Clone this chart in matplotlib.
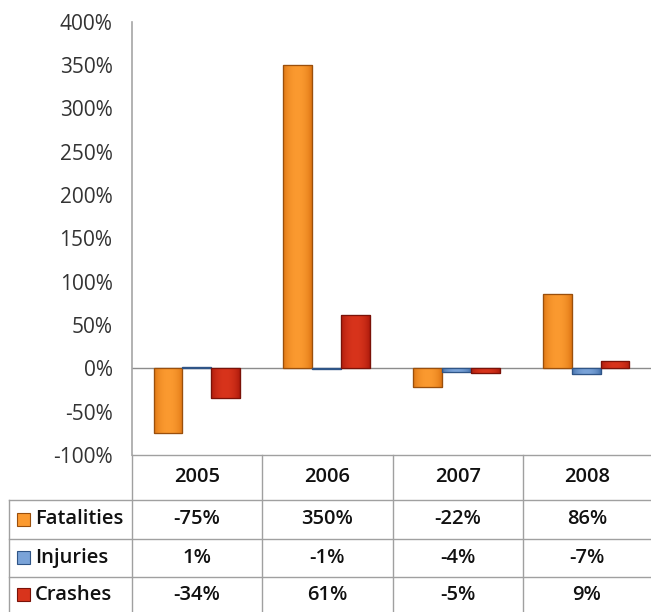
import numpy as np
import matplotlib
matplotlib.use('Agg')
from matplotlib import pyplot as plt
from matplotlib.lines import Line2D
from matplotlib.patches import Rectangle
from matplotlib.colors import LinearSegmentedColormap
from matplotlib.ticker import FuncFormatter

plt.rcParams['font.family'] = ['Open Sans', 'DejaVu Sans']

years = ['2005', '2006', '2007', '2008']
series = ['Fatalities', 'Injuries', 'Crashes']
fatalities = [-75, 350, -22, 86]
injuries = [1, -1, -4, -7]
crashes = [-34, 61, -5, 9]
values = [fatalities, injuries, crashes]

# (dark edge, light centre) per series
shades = {
    'Fatalities': ('#d9700f', '#fb9a30'),
    'Injuries': ('#3d6aa5', '#7aa3d8'),
    'Crashes': ('#a8180a', '#d8341c'),
}
edge = {'Fatalities': '#9a4f0c', 'Injuries': '#2f5587', 'Crashes': '#7a1208'}

W, H = 651, 612
fig = plt.figure(figsize=(W / 100, H / 100), dpi=100)

def fx(px):
    return px / W

def fy(py):
    return 1 - py / H

ax = fig.add_axes([fx(132), fy(455), fx(651) - fx(132), fy(21.6) - fy(455)])

n = len(series)
bw = 0.222
x = np.arange(len(years))
grad = np.array([np.sin(np.linspace(0, np.pi, 64)) ** 0.6])
for i, name in enumerate(series):
    pos = x + (i - 1) * bw
    bars = ax.bar(pos, values[i], width=bw, color=shades[name][1],
                  edgecolor=edge[name], linewidth=0.8, zorder=3)
    cmap = LinearSegmentedColormap.from_list(name, list(shades[name]))
    for b in bars:
        x0, y0 = b.get_x(), b.get_y()
        w, h = b.get_width(), b.get_height()
        im = ax.imshow(grad, cmap=cmap, aspect='auto', zorder=3.5,
                       extent=(x0, x0 + w, y0, y0 + h), interpolation='bicubic')
        clip = Rectangle((x0, y0), w, h, transform=ax.transData)
        im.set_clip_path(clip)
        ax.add_patch(Rectangle((x0, y0), w, h, fill=False, edgecolor=edge[name],
                               linewidth=0.9, zorder=4))

ax.set_xlim(-0.5, len(years) - 0.5)
ax.set_ylim(-100, 400)
ax.set_yticks(np.arange(-100, 401, 50))
ax.yaxis.set_major_formatter(FuncFormatter(lambda v, p: '%d%%' % v))
ax.tick_params(axis='y', length=0, pad=14, labelsize=15, colors='#333333')
ax.set_xticks([])
ax.axhline(0, color='#8c8c8c', linewidth=1, zorder=2)
for s in ['top', 'right', 'bottom']:
    ax.spines[s].set_visible(False)
ax.spines['left'].set_color('#a6a6a6')
ax.spines['left'].set_linewidth(1.2)

# data table below the chart
line_c = '#a0a0a0'
col_x = [132, 262, 393, 523, 651]
row_y = [455, 500, 539, 577, 612]
fig.add_artist(Line2D([fx(132), fx(651)], [fy(455), fy(455)], color=line_c, lw=1))
for yy in row_y[1:-1]:
    fig.add_artist(Line2D([fx(9), fx(651)], [fy(yy), fy(yy)], color=line_c, lw=1))
for xx in col_x[:-1]:
    fig.add_artist(Line2D([fx(xx), fx(xx)], [fy(455), fy(612)], color=line_c, lw=1))
fig.add_artist(Line2D([fx(9), fx(9)], [fy(500), fy(612)], color=line_c, lw=1))

for j, yr in enumerate(years):
    cx = (col_x[j] + col_x[j + 1]) / 2
    fig.text(fx(cx), fy((row_y[0] + row_y[1]) / 2), yr, ha='center', va='center',
             fontsize=14.5, fontweight='semibold', color='#111111')
    for i in range(n):
        cy = (row_y[i + 1] + row_y[i + 2]) / 2
        fig.text(fx(cx), fy(cy), '%d%%' % values[i][j], ha='center', va='center',
                 fontsize=14.5, fontweight='semibold', color='#111111')

for i, name in enumerate(series):
    cy = (row_y[i + 1] + row_y[i + 2]) / 2
    key = Rectangle((fx(17), fy(cy + 6)), fx(13), fy(0) - fy(13), transform=fig.transFigure,
                    facecolor=shades[name][1], edgecolor=edge[name], lw=0.8)
    fig.add_artist(key)
    fig.text(fx(35), fy(cy), name, ha='left', va='center', fontsize=14.5,
             fontweight='semibold', color='#111111')

plt.savefig('out.png', dpi=100)
